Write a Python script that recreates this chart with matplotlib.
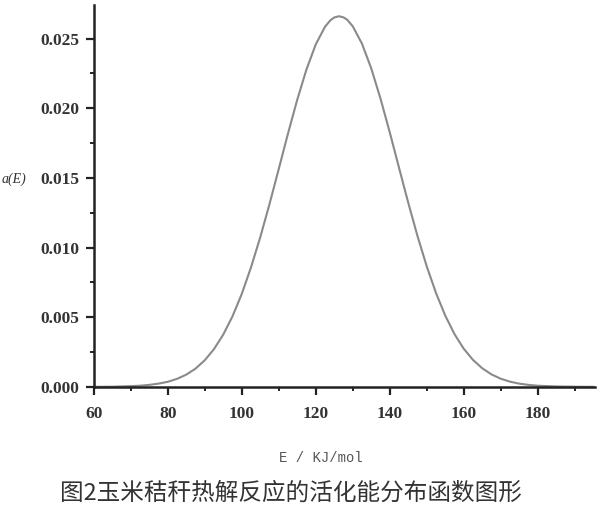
import matplotlib

matplotlib.use("Agg")
import matplotlib.pyplot as plt
from matplotlib.ticker import MultipleLocator, FormatStrFormatter

# activation energy E (kJ/mol) and distribution a(E)
energy = [60, 65, 70, 72.5, 75, 77.5, 80, 82.5, 85, 87.5, 90, 92.5, 95, 97.5,
          100, 102.5, 105, 107.5, 110, 112.5, 115, 117.5, 120, 122.5, 124,
          125, 126.3, 127.5, 128.5, 130, 132.5, 135, 137.5, 140, 142.5, 145,
          147.5, 150, 152.5, 155, 157.5, 160, 162.5, 165, 167.5, 170, 172.5,
          175, 177.5, 180, 185, 190, 195]
density = [0.0, 0.00001, 0.00005, 0.00008, 0.00014, 0.00023, 0.00036, 0.00057,
           0.00087, 0.00130, 0.00190, 0.00270, 0.00374, 0.00505, 0.00665,
           0.00856, 0.01072, 0.01310, 0.01562, 0.01817, 0.02060, 0.02278,
           0.02457, 0.02584, 0.02632, 0.02651, 0.02660, 0.02652, 0.02635,
           0.02588, 0.02463, 0.02286, 0.02069, 0.01827, 0.01573, 0.01321,
           0.01082, 0.00864, 0.00673, 0.00511, 0.00378, 0.00273, 0.00193,
           0.00133, 0.00089, 0.00058, 0.00037, 0.00023, 0.00014, 0.00008,
           0.00003, 0.00001, 0.0]

x_ticks = [60, 80, 100, 120, 140, 160, 180]
y_ticks = [0.000, 0.005, 0.010, 0.015, 0.020, 0.025]

caption = "图2玉米秸秆热解反应的活化能分布函数图形"

fig = plt.figure(figsize=(6.0, 5.09), dpi=100)
ax = fig.add_axes([0.156, 0.240, 0.836, 0.750])

ax.plot(energy, density, color="#8a8a8a", lw=1.5)

ax.set_xlim(60, 195.5)
ax.set_ylim(0, 0.0274)
ax.set_xticks(x_ticks)
ax.set_yticks(y_ticks)
ax.xaxis.set_minor_locator(MultipleLocator(10))
ax.yaxis.set_minor_locator(MultipleLocator(0.0025))
ax.yaxis.set_major_formatter(FormatStrFormatter("%.3f"))

for side in ("top", "right"):
    ax.spines[side].set_visible(False)
for side in ("left", "bottom"):
    ax.spines[side].set_linewidth(1.8)
    ax.spines[side].set_color("#222222")

ax.tick_params(which="major", direction="out", length=6, width=1.6, color="#222222",
               labelsize=12.5, pad=4)
ax.tick_params(which="minor", direction="out", length=3, width=1.4, color="#222222")
for lab in ax.get_xticklabels() + ax.get_yticklabels():
    lab.set_fontfamily("Liberation Serif")
    lab.set_fontweight("bold")
    lab.set_color("#333333")
ax.tick_params(axis="x", pad=8)

fig.text(0.002, 0.648, "a(E)", fontsize=10, family="Liberation Serif",
         style="italic", color="#333333", ha="left", va="center")
fig.text(0.535, 0.100, "E / KJ/mol", fontsize=10, family="Liberation Mono",
         color="#555555", ha="center", va="center")
fig.text(0.485, 0.031, caption, fontsize=17, family=["Noto Sans CJK SC", "DejaVu Sans"],
         color="#333333", ha="center", va="center")

fig.savefig("out.png", dpi=100, facecolor="white")
